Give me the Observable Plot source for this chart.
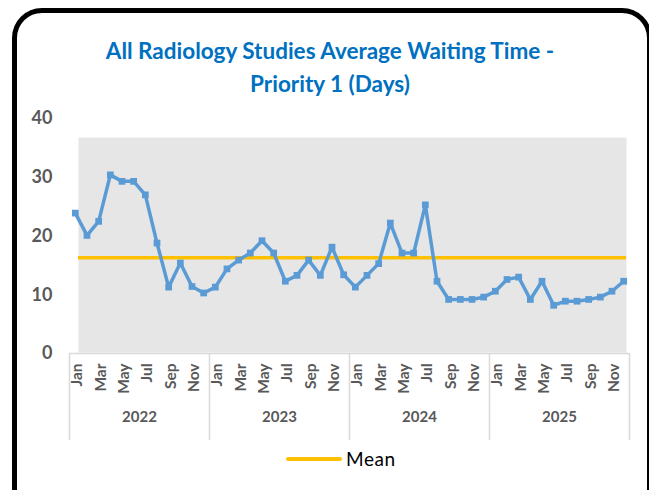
<!DOCTYPE html>
<html>
<head>
<meta charset="utf-8">
<script src="https://cdn.jsdelivr.net/npm/d3@7"></script>
<script src="https://cdn.jsdelivr.net/npm/@observablehq/plot@0.6"></script>
<style>
  html, body { margin: 0; padding: 0; background: #fff; }
  #wrap { position: relative; width: 649px; height: 490px; overflow: hidden; font-family: Lato, "Open Sans", sans-serif; }
  #border { position: absolute; left: 12px; top: 8px; width: 640px; height: 520px; border: 5px solid #000; border-radius: 30px; box-sizing: border-box; }
  #title { position: absolute; left: 0; width: 660px; top: 34px; text-align: center; color: #0070C0; font-weight: bold; font-size: 22.5px; line-height: 33px; }
  #chart { position: absolute; left: 0; top: 100px; }
  #legend { position: absolute; left: 286px; top: 447px; display: flex; align-items: center; font-size: 19px; letter-spacing: 0.6px; color: #000; }
  #legend .sw { width: 56px; height: 4px; background: #FFC000; margin-right: 4px; border-radius: 2px; }
</style>
</head>
<body>
<div id="wrap">
  <div id="border"></div>
  <div id="title">All Radiology Studies Average Waiting Time -<br>Priority 1 (Days)</div>
  <div id="chart"></div>
  <div id="legend"><div class="sw"></div><span>Mean</span></div>
</div>
<script>
const years = ["2022", "2023", "2024", "2025"];
const monthNames = ["Jan","Feb","Mar","Apr","May","Jun","Jul","Aug","Sep","Oct","Nov","Dec"];
const waitingDays = [
  23.9, 20.1, 22.5, 30.4, 29.3, 29.3, 27.0, 18.8, 11.3, 15.4, 11.4, 10.3,
  11.3, 14.4, 15.9, 17.1, 19.2, 17.1, 12.3, 13.3, 15.9, 13.3, 18.1, 13.4,
  11.3, 13.3, 15.3, 22.2, 17.1, 17.1, 25.3, 12.3, 9.2, 9.2, 9.2, 9.6,
  10.6, 12.6, 13.0, 9.2, 12.3, 8.2, 8.9, 8.9, 9.2, 9.6, 10.6, 12.3
];
const meanValue = [16.3];
const yTicks = [0, 10, 20, 30, 40];

const data = waitingDays.map((v, i) => ({
  i, value: v, year: years[Math.floor(i / 12)], month: monthNames[i % 12]
}));
const labeled = data.filter(d => (d.i % 12) % 2 === 0);
const yearRows = years.map((y, k) => ({ year: y, mid: k * 12 + 5.5 }));
const seps = d3.range(years.length + 1).map(k => k * 12 - 0.5);

const gray = "#595959";
const plot = Plot.plot({
  width: 649,
  height: 350,
  marginLeft: 69,
  marginRight: 20,
  marginTop: 18,
  marginBottom: 97,
  style: { fontFamily: "Lato, 'Open Sans', sans-serif", background: "transparent", overflow: "visible" },
  x: { domain: [-0.5, waitingDays.length - 0.5], axis: null },
  y: { domain: [0, 40], axis: null },
  marks: [
    Plot.frame({ fill: "#e6e6e6", stroke: null, insetLeft: 9, insetRight: 3, insetTop: 19, insetBottom: 1 }),
    Plot.ruleY([0], { stroke: "#d9d9d9", strokeWidth: 1.5 }),
    Plot.ruleX(seps, { stroke: "#d9d9d9", strokeWidth: 1.5, insetTop: 235, insetBottom: -87 }),
    Plot.ruleY(meanValue, { stroke: "#FFC000", strokeWidth: 3.5, insetLeft: 9, insetRight: 3 }),
    Plot.line(data, { x: "i", y: "value", stroke: "#5B9BD5", strokeWidth: 3.5 }),
    Plot.dot(data, { x: "i", y: "value", symbol: "square", r: 3.8, fill: "#5B9BD5", stroke: null }),
    Plot.text(yTicks, { x: () => -0.5, y: d => d, text: d => String(d), textAnchor: "end", dx: -17, fill: gray, fontWeight: "bold", fontSize: 18 }),
    Plot.text(labeled, { x: "i", text: "month", frameAnchor: "bottom", rotate: -90, textAnchor: "end", lineAnchor: "middle", dy: 10, dx: 2, fill: gray, fontWeight: "bold", fontSize: 15.5 }),
    Plot.text(yearRows, { x: "mid", text: "year", frameAnchor: "bottom", lineAnchor: "middle", dy: 64, fill: gray, fontWeight: "bold", fontSize: 15 })
  ]
});
document.getElementById("chart").appendChild(plot);
</script>
</body>
</html>
